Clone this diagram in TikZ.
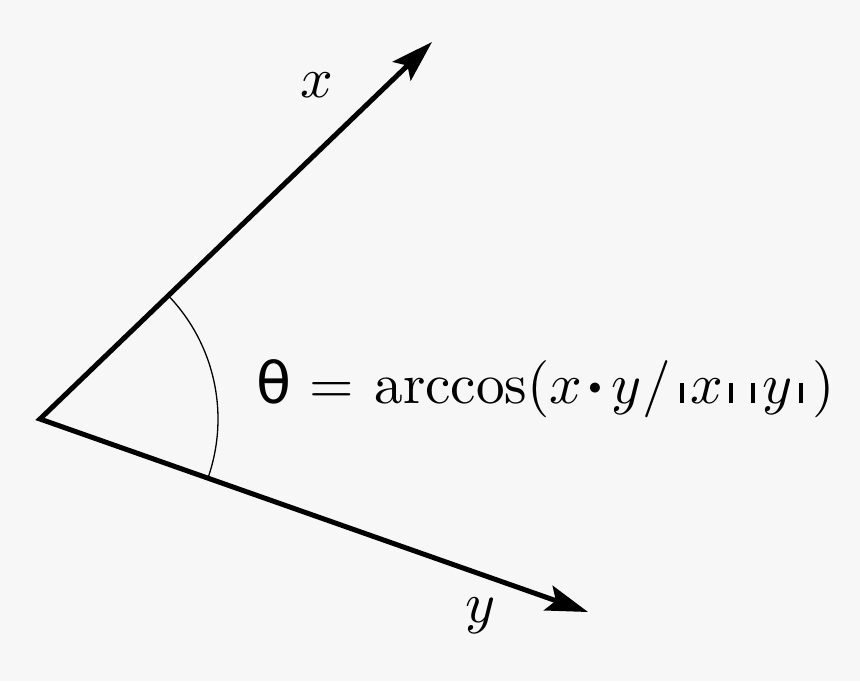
\documentclass[tikz,border=0pt]{standalone}
\usepackage{fontspec}
\newfontfamily\thetafont{DejaVu Sans}
\usetikzlibrary{positioning, arrows.meta}
\definecolor{paper}{HTML}{F7F7F7}
\newcommand{\nbar}{\rule{0.65pt}{3.5pt}}
\newcommand{\dotop}{\mathord{\vcenter{\hbox{\scalebox{0.45}{$\bullet$}}}}}

\begin{document}
\begin{tikzpicture}[x=0.5pt, y=-0.5pt]
% Define styles
\tikzstyle{vector} = [draw, line width=2.5pt, {Stealth[length=21pt, width=13pt, inset=4pt]}-{Stealth[length=21pt, width=13pt, inset=4pt]}]
\tikzstyle{angle} = [draw, line width=0.65pt]
\tikzstyle{label} = [scale=2.86, inner sep=0pt]
% Background
\fill[paper] (0,0) rectangle (860,681);
% Place nodes
\coordinate (origin) at (40,419);
\coordinate (xend) at (432,42);
\coordinate (yend) at (588,612);
\node [label] (xlabel) at (317,85) {$x$};
\node [label] (ylabel) at (481,616) {$y$};
\node [label, anchor=base west] (formula) at (255,403)
    {$\hbox{\thetafont θ}\kern0.5pt=\kern0.75pt\arccos(x\kern1.1pt\dotop\kern1.8pt y/\kern1.7pt\nbar\kern1.1pt x\kern1.05pt\nbar\kern3.25pt\nbar\kern1.25pt y\kern1.25pt\nbar\kern1.65pt)$};
% Draw vectors and angle
\path [vector] (xend) -- (origin) -- (yend);
\path [angle] (origin) ++(-43.9:178) arc [start angle=-43.9, end angle=19.4, radius=178];
\end{tikzpicture}
\end{document}
